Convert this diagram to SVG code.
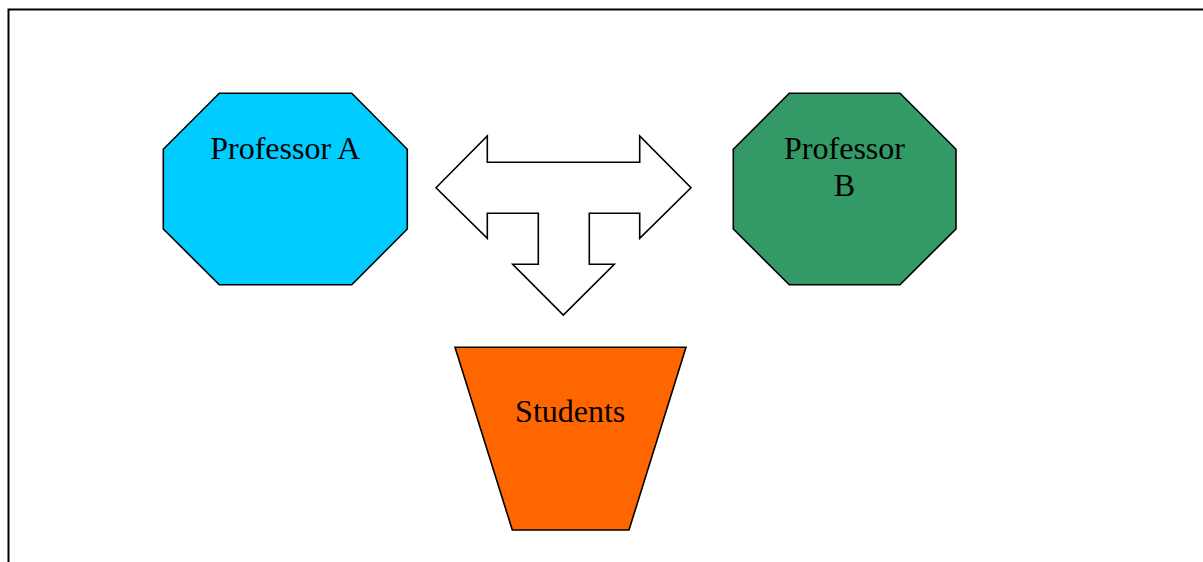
<svg xmlns="http://www.w3.org/2000/svg" width="1203" height="562" viewBox="0 0 1203 562">
<style>
.shape{stroke:#000;stroke-width:1.6;stroke-linejoin:miter}
.lbl{font-family:"Liberation Serif","Times New Roman",serif;font-size:32px;fill:#000;text-anchor:middle}
</style>
<rect x="0" y="0" width="1203" height="562" fill="#fff"/>
<path d="M8.5 570 V9.5 H1210" fill="none" stroke="#000" stroke-width="2"/>
<g id="professor-a">
<polygon class="shape" fill="#00CCFF" points="219.3,93.3 351.7,93.3 407.3,149.3 407.3,229 351.7,284.7 219.3,284.7 163.3,229 163.3,149.3"/>
<text class="lbl" x="285.3" y="159">Professor A</text>
</g>
<g id="professor-b">
<polygon class="shape" fill="#339966" points="789.3,93.3 900,93.3 956,149.3 956,229 900,284.7 789.3,284.7 733.3,229 733.3,149.3"/>
<text class="lbl" x="844.5" y="159">Professor</text>
<text class="lbl" x="844.5" y="195.5">B</text>
</g>
<g id="students">
<polygon class="shape" fill="#FF6600" points="455,347.3 686,347.3 629,530 512.3,530"/>
<text class="lbl" x="570.2" y="421.5">Students</text>
</g>
<g id="connectors">
<polygon class="shape" fill="#fff" points="436,187.7 487.3,136 487.3,162.3 639.7,162.3 639.7,136 691,187.7 639.7,238.3 639.7,213.3 589.3,213.3 589.3,264.3 614.3,264.3 563.3,315 512.7,264.3 538.3,264.3 538.3,213.3 487.3,213.3 487.3,238.3"/>
</g>
</svg>
